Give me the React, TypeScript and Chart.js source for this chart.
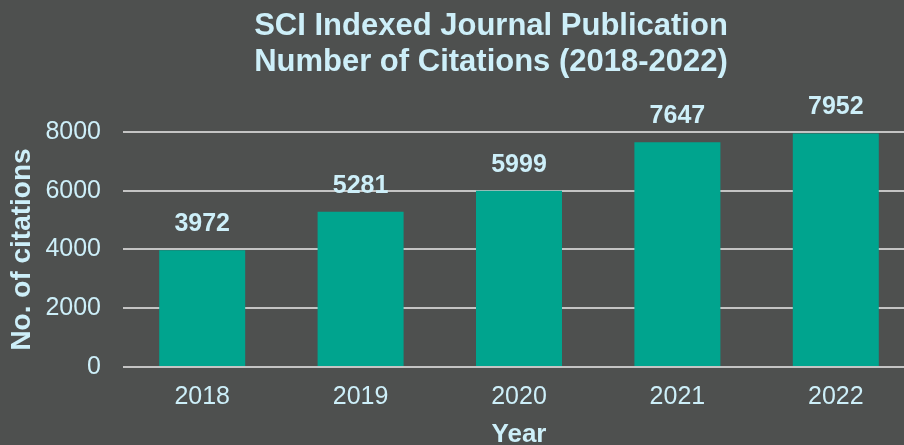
import React, { useEffect, useRef } from "react";
import { Chart, registerables } from "chart.js";

Chart.register(...registerables);

const years = ["2018", "2019", "2020", "2021", "2022"];
const citations = [3972, 5281, 5999, 7647, 7952];
const yTicks = [0, 2000, 4000, 6000, 8000];
const titleLines = ["SCI Indexed Journal Publication", "Number of Citations (2018-2022)"];

const BG = "#4e504f";
const TEXT = "#cdeff9";
const BAR = "#00a48e";
const GRID = "#c4c4c4";
const FONT = "'Liberation Sans', Arial, sans-serif";

const labelPlugin = {
  id: "valueLabels",
  afterDatasetsDraw(chart: any) {
    const ctx = chart.ctx;
    const meta = chart.getDatasetMeta(0);
    ctx.save();
    ctx.fillStyle = TEXT;
    ctx.font = `bold 25px ${FONT}`;
    ctx.textAlign = "center";
    ctx.textBaseline = "middle";
    meta.data.forEach((bar: any, i: number) => {
      ctx.fillText(String(citations[i]), bar.x, bar.y - 26);
    });
    ctx.restore();
  },
};

const titlePlugin = {
  id: "offsetTitle",
  afterDraw(chart: any) {
    const ctx = chart.ctx;
    ctx.save();
    ctx.fillStyle = TEXT;
    ctx.font = `bold 31px ${FONT}`;
    ctx.textAlign = "center";
    ctx.textBaseline = "alphabetic";
    titleLines.forEach((line, i) => {
      ctx.fillText(line, 491, 34.5 + i * 36);
    });
    ctx.restore();
  },
};

const bgPlugin = {
  id: "bg",
  beforeDraw(chart: any) {
    const ctx = chart.ctx;
    ctx.save();
    ctx.fillStyle = BG;
    ctx.fillRect(0, 0, chart.width, chart.height);
    ctx.restore();
  },
};

export default function App() {
  const ref = useRef<HTMLCanvasElement>(null);
  useEffect(() => {
    document.body.style.margin = "0";
    document.body.style.background = BG;
    const chart = new Chart(ref.current!, {
      type: "bar",
      data: {
        labels: years,
        datasets: [
          {
            data: citations,
            backgroundColor: BAR,
            borderWidth: 0,
            barPercentage: 0.543,
            categoryPercentage: 1,
          },
        ],
      },
      options: {
        animation: false,
        responsive: true,
        maintainAspectRatio: false,
        layout: { padding: { left: 5, right: 0, top: 132, bottom: 0 } },
        plugins: {
          legend: { display: false },
          tooltip: { enabled: false },
          title: { display: false },
        },
        scales: {
          x: {
            grid: { display: false },
            border: { display: false },
            ticks: {
              color: TEXT,
              font: { family: FONT, size: 25 },
              padding: 7,
            },
            title: {
              display: true,
              text: "Year",
              color: TEXT,
              font: { family: FONT, size: 26, weight: "bold", lineHeight: 0.77 },
              padding: { top: 6, bottom: 0 },
            },
          },
          y: {
            min: 0,
            max: 8000,
            afterBuildTicks(scale: any) {
              scale.ticks = yTicks.map((v) => ({ value: v }));
            },
            afterFit(scale: any) {
              scale.width = 118;
            },
            grid: { color: GRID, lineWidth: 2, drawTicks: false },
            border: { display: false },
            ticks: {
              color: TEXT,
              font: { family: FONT, size: 25 },
              padding: 22,
              callback: (v: any) => String(v),
            },
            title: {
              display: true,
              text: "No. of citations",
              color: TEXT,
              font: { family: FONT, size: 28, weight: "bold", lineHeight: 1.2 },
              padding: { top: 0, bottom: 7 },
            },
          },
        },
      },
      plugins: [bgPlugin, labelPlugin, titlePlugin],
    });
    return () => chart.destroy();
  }, []);
  return (
    <div style={{ width: 904, height: 445, background: BG, overflow: "hidden" }}>
      <div style={{ width: 915, height: 445 }}>
        <canvas ref={ref} />
      </div>
    </div>
  );
}
